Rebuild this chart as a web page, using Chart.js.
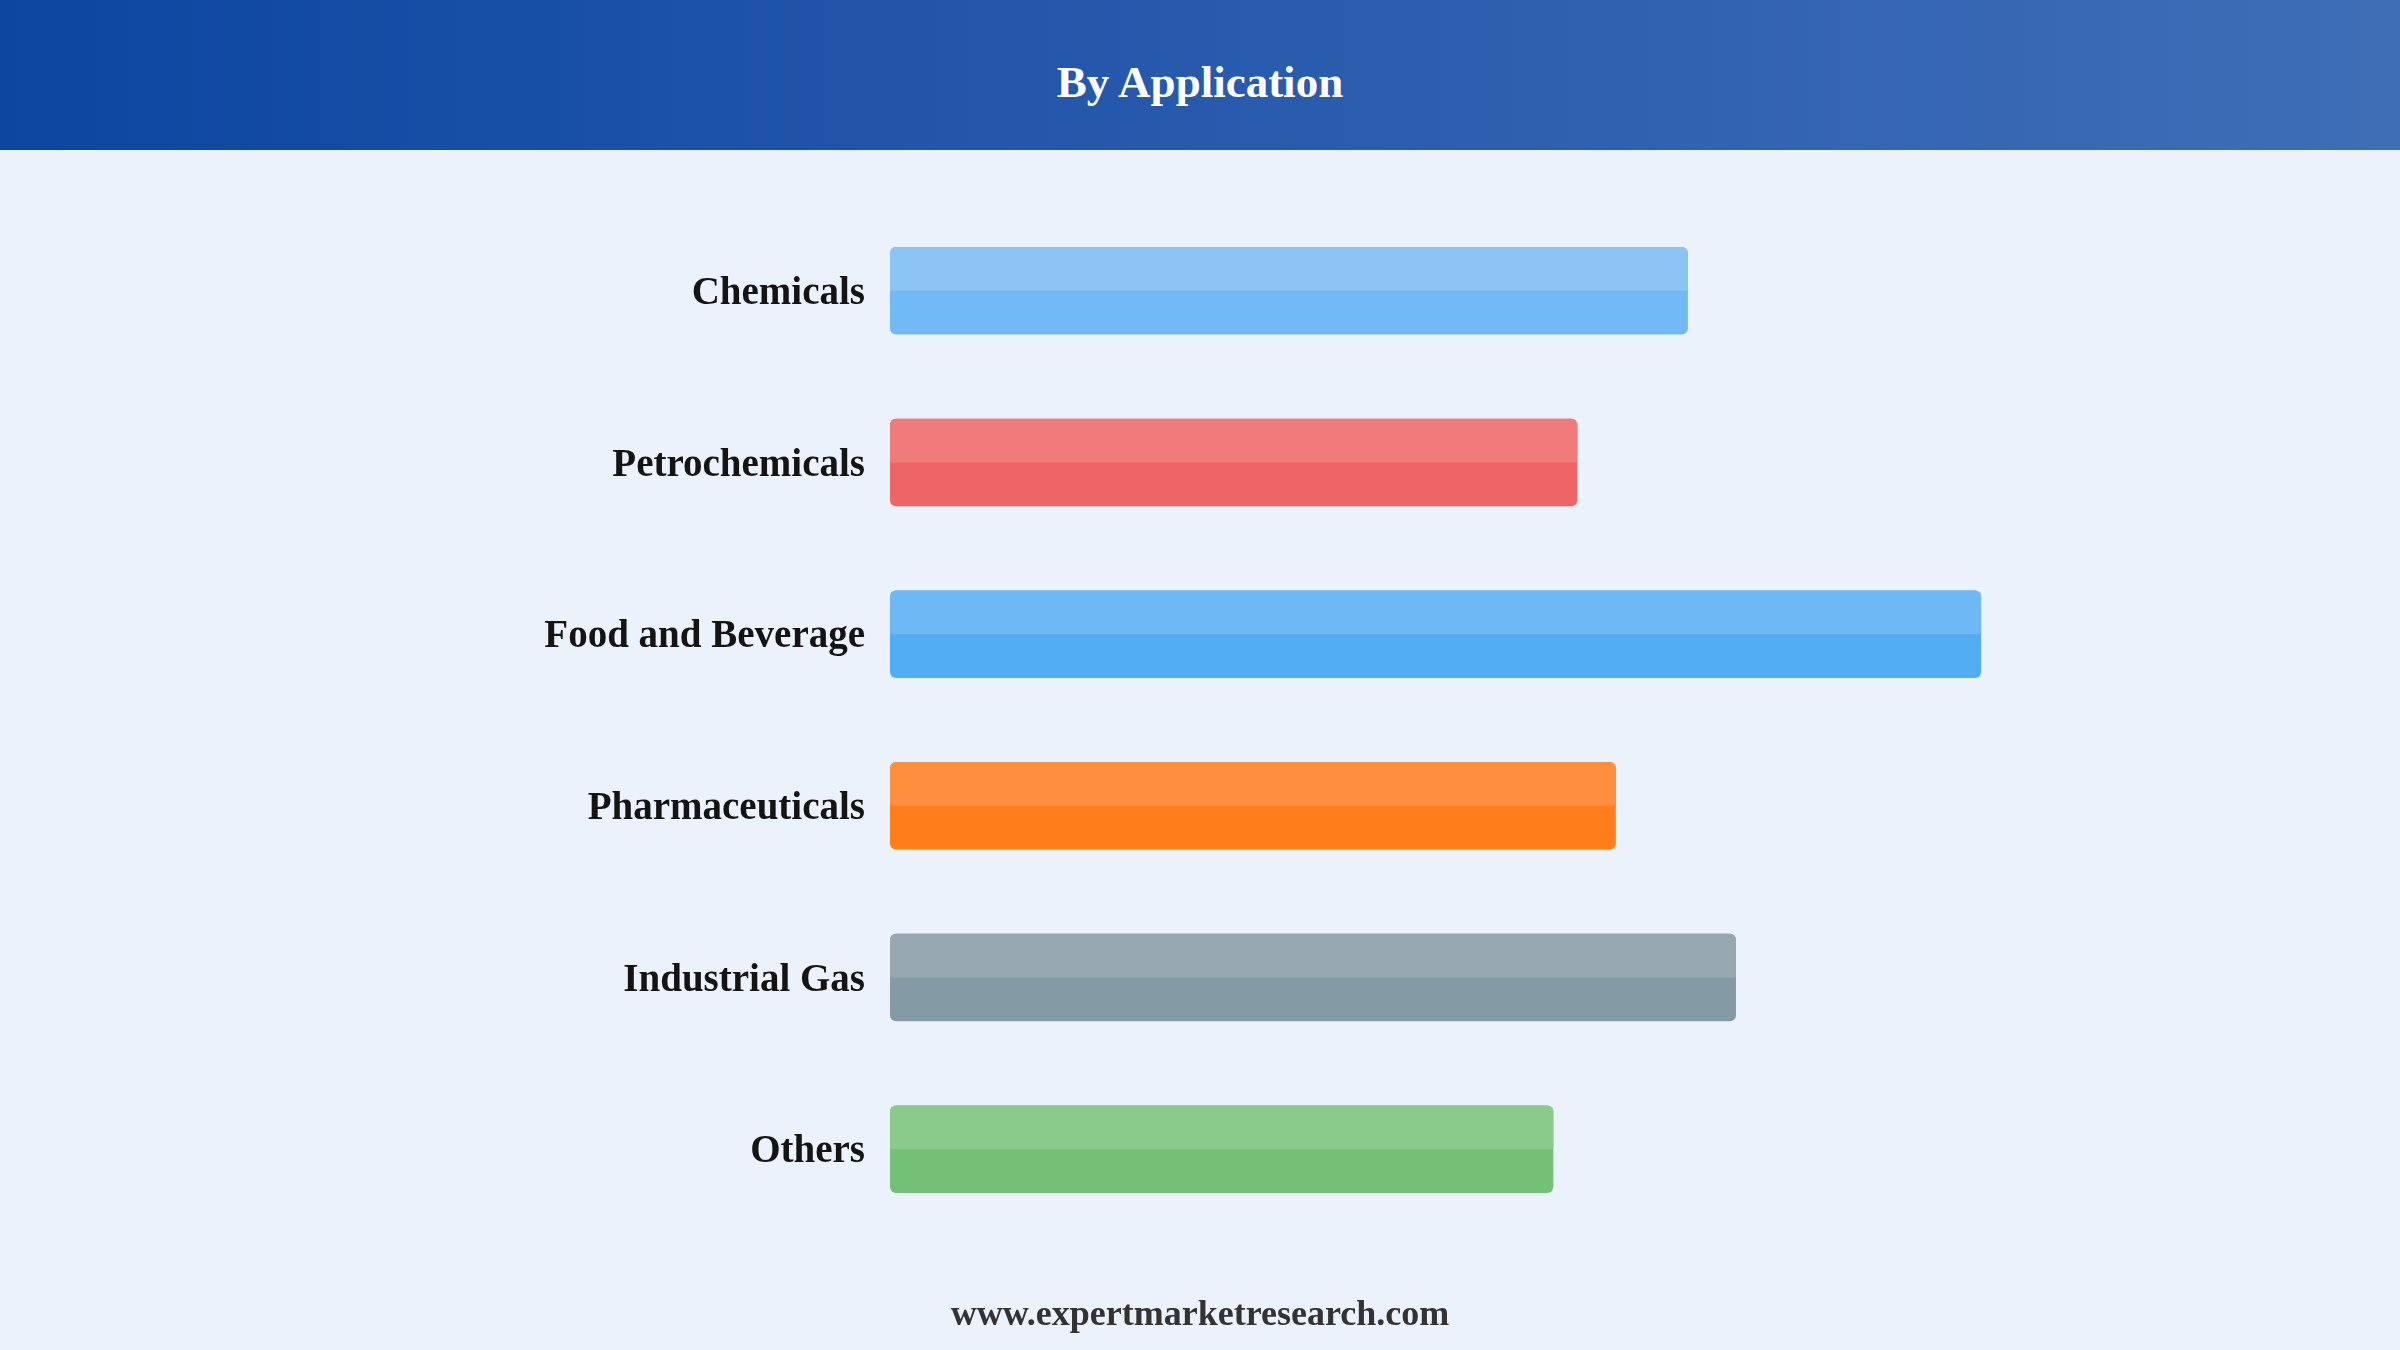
<!DOCTYPE html>
<html>
<head>
<meta charset="utf-8">
<title>By Application</title>
<script src="https://cdn.jsdelivr.net/npm/chart.js@4.4.1/dist/chart.umd.min.js"></script>
<style>
    html, body {
        margin: 0;
        padding: 0;
        width: 2400px;
        height: 1350px;
        overflow: hidden;
        background: #ebf2fc;
        font-family: "Liberation Serif", "Times New Roman", serif;
    }
    .header {
        position: absolute;
        left: 0;
        top: 0;
        width: 2400px;
        height: 150px;
        background: linear-gradient(90deg, #0c46a1 0%, #2a5cae 55%, #3f6eb7 100%);
        z-index: 2;
    }
    .header h1 {
        position: absolute;
        left: 0;
        right: 0;
        top: 60px;
        margin: 0;
        text-align: center;
        color: #ffffff;
        font-size: 45px;
        line-height: 1;
        font-weight: bold;
    }
    .chart-box {
        position: absolute;
        left: 0;
        top: 0;
        width: 2400px;
        height: 1350px;
        z-index: 1;
    }
    .footer {
        position: absolute;
        left: 0;
        right: 0;
        top: 1295px;
        text-align: center;
        color: #333333;
        font-size: 36px;
        line-height: 1;
        font-weight: bold;
        z-index: 2;
    }
</style>
</head>
<body>
<div class="header"><h1>By Application</h1></div>
<div class="chart-box"><canvas id="myChart"></canvas></div>
<div class="footer">www.expertmarketresearch.com</div>

<script>
// ----------------------------
// data
// ----------------------------
const categories = ['Chemicals', 'Petrochemicals', 'Food and Beverage', 'Pharmaceuticals', 'Industrial Gas', 'Others'];
const shares = [16.6, 14.3, 22.7, 15.1, 17.6, 13.8];
const baseColors = ['#72baf5', '#ef6565', '#53adf4', '#ff7d1a', '#849ba5', '#74c077'];
const topColors = ['#8ac5f5', '#f17b7b', '#6eb8f5', '#ff8e3e', '#97a8b1', '#8aca8b'];

// lighter top half on every bar
const topHalfPlugin = {
    id: 'topHalf',
    afterDatasetDraw(chart, args) {
        const ctx = chart.ctx;
        const meta = args.meta;
        meta.data.forEach((bar, i) => {
            const left = Math.min(bar.base, bar.x);
            const w = Math.abs(bar.x - bar.base);
            const top = bar.y - bar.height / 2;
            const h = bar.height / 2;
            ctx.save();
            ctx.fillStyle = topColors[i];
            ctx.beginPath();
            ctx.roundRect(left, top, w, h, [6, 6, 2, 2]);
            ctx.fill();
            ctx.restore();
        });
    }
};

const ctx = document.getElementById('myChart').getContext('2d');

const chart = new Chart(ctx, {
    type: 'bar',
    data: {
        labels: categories,
        datasets: [
            {
                label: 'Share',
                data: shares,
                backgroundColor: baseColors,
                borderRadius: 6,
                borderSkipped: false,
                categoryPercentage: 1,
                barPercentage: 0.51
            }
        ]
    },
    options: {
        indexAxis: 'y',
        responsive: true,
        maintainAspectRatio: false,
        animation: false,
        layout: {
            padding: { top: 205, bottom: 115, left: 0, right: 68 }
        },
        plugins: {
            legend: { display: false },
            tooltip: { enabled: false },
            title: { display: false }
        },
        scales: {
            x: {
                display: false,
                min: 0,
                max: 30
            },
            y: {
                grid: { display: false, drawTicks: false },
                border: { display: false },
                ticks: {
                    color: '#141414',
                    padding: 25,
                    labelOffset: 3,
                    font: {
                        family: '"Liberation Serif", "Times New Roman", serif',
                        size: 39,
                        weight: 'bold'
                    }
                },
                afterFit: (scale) => {
                    scale.width = 890;
                }
            }
        }
    },
    plugins: [topHalfPlugin]
});
</script>
</body>
</html>
